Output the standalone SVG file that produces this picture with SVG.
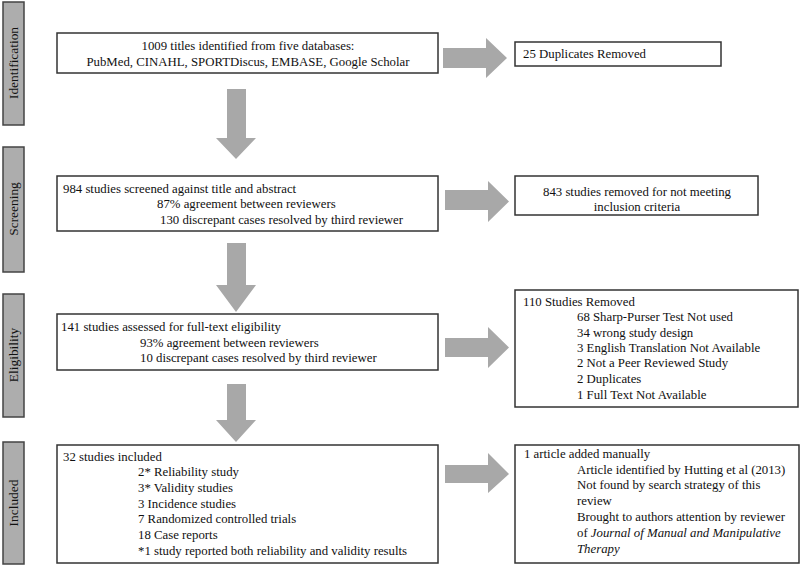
<svg xmlns="http://www.w3.org/2000/svg" width="800" height="566" viewBox="0 0 800 566" font-family="'Liberation Serif', 'Times New Roman', serif">
<style>
.stage rect{fill:#adadad;stroke:#444;stroke-width:1.5}
.stage text{font-size:13.4px;fill:#111;text-anchor:middle}
.box{fill:#fff;stroke:#333;stroke-width:1.5}
text{font-family:'Liberation Serif','Times New Roman',serif;font-size:12.8px;fill:#111}
.c{text-anchor:middle}
.arr{fill:#a8a8a8}
</style>
<rect width="800" height="566" fill="#fff"/>
<g id="stage-identification" class="stage"><rect x="3" y="2" width="21" height="123"/><text transform="translate(18,63) rotate(-90)">Identification</text></g>
<g id="stage-screening" class="stage"><rect x="3" y="147" width="21" height="125"/><text transform="translate(18,209) rotate(-90)">Screening</text></g>
<g id="stage-eligibility" class="stage"><rect x="3" y="294" width="21" height="123"/><text transform="translate(18,355) rotate(-90)">Eligibility</text></g>
<g id="stage-included" class="stage"><rect x="3" y="442" width="21" height="122"/><text transform="translate(18,503) rotate(-90)">Included</text></g>

<g id="n-identified"><rect class="box" x="57" y="33" width="381" height="40"/>
<text class="c" x="248" y="50">1009 titles identified  from five databases:</text>
<text class="c" x="248" y="66">PubMed, CINAHL, SPORTDiscus, EMBASE, Google Scholar</text></g>
<g id="n-duplicates"><rect class="box" x="515" y="42" width="206" height="24"/>
<text x="523" y="58">25 Duplicates Removed</text></g>

<g id="n-screened"><rect class="box" x="57" y="176" width="381" height="55"/>
<text x="63" y="193">984 studies screened against title and abstract</text>
<text x="157" y="208">87% agreement between reviewers</text>
<text x="160" y="224">130 discrepant cases resolved by third reviewer</text></g>
<g id="n-removed843"><rect class="box" x="515" y="176" width="243" height="39"/>
<text class="c" x="637" y="196">843 studies removed for not meeting</text>
<text class="c" x="637" y="211">inclusion criteria</text></g>

<g id="n-eligibility"><rect class="box" x="57" y="314" width="381" height="56"/>
<text x="61" y="331">141 studies assessed for full-text eligibility</text>
<text x="140" y="347">93% agreement between reviewers</text>
<text x="140" y="362">10 discrepant cases resolved by third reviewer</text></g>
<g id="n-removed110"><rect class="box" x="515" y="290" width="283" height="117"/>
<text x="523" y="306">110 Studies Removed</text>
<text x="577" y="321">68 Sharp-Purser Test Not used</text>
<text x="577" y="337">34 wrong study design</text>
<text x="577" y="352">3 English Translation Not Available</text>
<text x="577" y="367">2 Not a Peer Reviewed Study</text>
<text x="577" y="383">2 Duplicates</text>
<text x="577" y="399">1 Full Text Not Available</text></g>

<g id="n-included"><rect class="box" x="57" y="445" width="381" height="118"/>
<text x="63" y="461">32 studies included</text>
<text x="138" y="476">2* Reliability study</text>
<text x="138" y="492">3* Validity studies</text>
<text x="138" y="508">3 Incidence studies</text>
<text x="138" y="523">7 Randomized controlled trials</text>
<text x="138" y="539">18 Case reports</text>
<text x="138" y="555">*1 study reported both reliability and validity results</text></g>
<g id="n-manual"><rect class="box" x="515" y="445" width="284" height="118"/>
<text x="524" y="458">1 article added manually</text>
<text x="577" y="474">Article identified by Hutting et al (2013)</text>
<text x="577" y="489">Not found by search strategy of this</text>
<text x="577" y="505">review</text>
<text x="577" y="521">Brought to authors attention by reviewer</text>
<text x="577" y="537">of <tspan font-style="italic">Journal of Manual and Manipulative</tspan></text>
<text x="577" y="553" font-style="italic">Therapy</text></g>

<g id="connectors" class="arr">
<polygon points="443,48 486,48 486,38 507,58 486,78 486,68 443,68"/>
<polygon points="445,190 488,190 488,181 509,201.5 488,222 488,210 445,210"/>
<polygon points="445,338 488,338 488,327 509,347.5 488,368 488,357 445,357"/>
<polygon points="445,465 488,465 488,453 509,474 488,493 488,483 445,483"/>
<polygon points="227,89 246,89 246,138 256,138 236,159 216,138 227,138"/>
<polygon points="227,243 246,243 246,285 256,285 236,312 216,285 227,285"/>
<polygon points="227,384 246,384 246,420 256,420 236,442 216,420 227,420"/>
</g>
</svg>
